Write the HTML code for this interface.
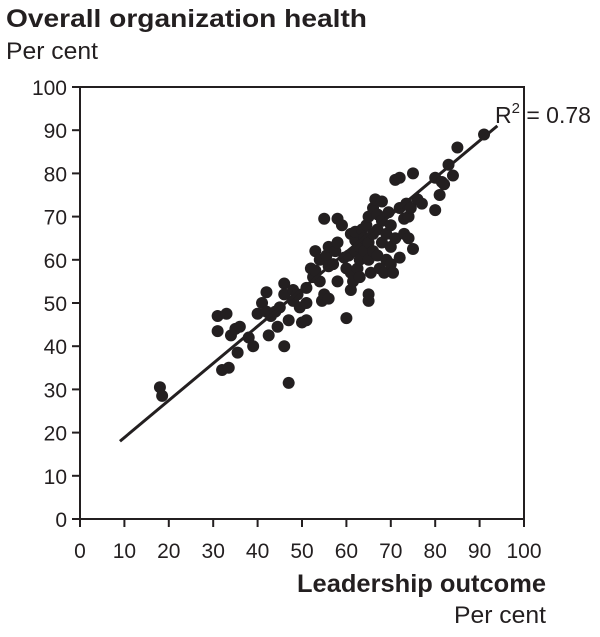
<!DOCTYPE html>
<html><head><meta charset="utf-8"><style>
body{margin:0;background:#fff;font-family:"Liberation Sans",Arial,sans-serif;}
svg text{font-family:"Liberation Sans",Arial,sans-serif;fill:#231f20;}
</style></head><body>
<svg id="chart" width="600" height="632" viewBox="0 0 600 632">
<text x="6" y="27" font-size="25" font-weight="bold" textLength="361" lengthAdjust="spacingAndGlyphs">Overall organization health</text>
<text x="6" y="59" font-size="24" textLength="92" lengthAdjust="spacingAndGlyphs">Per cent</text>
<text x="297" y="592" font-size="25" font-weight="bold" textLength="249" lengthAdjust="spacingAndGlyphs">Leadership outcome</text>
<text x="454" y="623" font-size="24" textLength="92" lengthAdjust="spacingAndGlyphs">Per cent</text>
<g id="axes"></g><g id="marks"></g>
<text x="495" y="123" font-size="23">R<tspan dy="-10" font-size="15">2</tspan><tspan dy="10"> = 0.78</tspan></text>
</svg>
<script>
const xTicks=[0,10,20,30,40,50,60,70,80,90,100];
const yTicks=[0,10,20,30,40,50,60,70,80,90,100];
const xVals=[18,18.5,31,31,33,32,33.5,34,35,36,35.5,38,39,40,41,42,42,43,42.5,44,44.5,45,46,46,46,47,47,48,48,49,49.5,50,51,51,51,52,52.5,53,53,54,54,54.5,55,55,55.5,56,56,56,57,57.5,58,58,58,59,59.5,60,60,60.5,61,61,61,61.5,62,62,62,62.5,63,63,63,63.5,64,64,64.5,65,65,65,65,65,65.5,66,66,66,66.5,67,67,67,67.5,68,68,68,68.5,69,69,69.5,70,70,70,70.5,71,71,72,72,72,73,73,73.5,74,74,74.5,75,75,76,77,80,80,81,81.5,82,83,84,85,91];
const yVals=[30.5,28.5,47,43.5,47.5,34.5,35,42.5,44,44.5,38.5,42,40,47.5,50,52.5,48,47,42.5,48,44.5,49,54.5,52,40,31.5,46,53,50.5,52,49,45.5,50,46,53.5,58,56,62,57.5,60,55,50.5,52,69.5,61,63,58.5,51,59,62,55,64,69.5,68,60.5,58,46.5,61,66,57,53,55,64.5,62,66.5,58,63,56,60,67,65,62,68,70,64,60,52,50.5,57,72,66,62,74,70.5,67,61,58,73.5,64,69,57,66,60,71,68,63,59,57,65,78.5,72,79,60.5,66,69.5,73,65,70,72,80,62.5,74,73,79,71.5,75,78,77.5,82,79.5,86,89];
const fitLine=[[9,18],[94,91]];
const X0=80,X1=524,Y0=519,Y1=87;
const sx=v=>X0+(X1-X0)*v/100, sy=v=>Y0-(Y0-Y1)*v/100;
const NS="http://www.w3.org/2000/svg";
const axes=document.getElementById('axes'), marks=document.getElementById('marks');
function mk(tag,attrs,parent){const e=document.createElementNS(NS,tag);for(const k in attrs)e.setAttribute(k,attrs[k]);parent.appendChild(e);return e;}
let frame=mk('rect',{x:X0,y:Y1,width:X1-X0,height:Y0-Y1,fill:'none',stroke:'#231f20','stroke-width':2},axes);


xTicks.forEach(t=>{
 let l=mk('line',{x1:sx(t),x2:sx(t),y1:Y0,y2:Y0+8,stroke:'#231f20','stroke-width':2},axes);
 
 
 let tx=mk('text',{x:sx(t),y:Y0+39,'font-size':21,'text-anchor':'middle'},axes);tx.textContent=t;
 
 
});
yTicks.forEach(t=>{
 let l=mk('line',{x1:X0-8,x2:X0,y1:sy(t),y2:sy(t),stroke:'#231f20','stroke-width':2},axes);
 
 
 let tx=mk('text',{x:X0-13,y:sy(t)+8,'font-size':21,'text-anchor':'end'},axes);tx.textContent=t;
 
 
});
xVals.forEach((v,i)=>{
 let c=mk('circle',{cx:sx(v),cy:sy(yVals[i]),r:6,fill:'#231f20'},marks);
 
 
});
let fl=mk('line',{x1:sx(fitLine[0][0]),y1:sy(fitLine[0][1]),x2:sx(fitLine[1][0]),y2:sy(fitLine[1][1]),stroke:'#231f20','stroke-width':3},marks);


</script>
</body></html>
